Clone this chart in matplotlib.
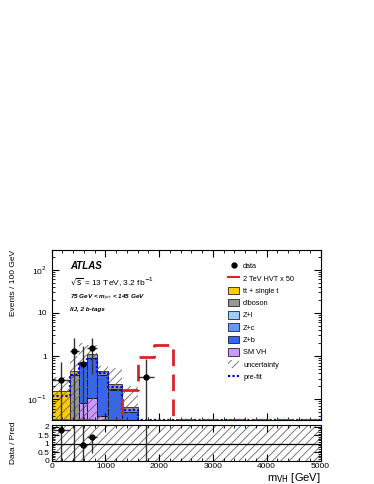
import numpy as np
import matplotlib
matplotlib.use("Agg")
import matplotlib.pyplot as plt
from matplotlib.patches import Patch
from matplotlib.lines import Line2D

plt.rcParams['font.family'] = ['Liberation Sans', 'DejaVu Sans']
plt.rcParams['hatch.linewidth'] = 0.6
plt.rcParams['hatch.color'] = '#666666'

# bin edges in GeV, values are events / 100 GeV
edges = [0, 350, 500, 650, 850, 1050, 1300, 1600, 1900, 2250, 5000]

sm_vh   = [0.0,   0.0,  0.084, 0.105, 0.042, 0.008, 0.0,   0, 0, 0]
z_b     = [0.0,   0.0,  0.62,  0.775, 0.32,  0.16,  0.052, 0, 0, 0]
z_c     = [0.0,   0.0,  0.005, 0.005, 0.003, 0.002, 0.0,   0, 0, 0]
z_l     = [0.0,   0.0,  0.0,   0.0,   0.0,   0.0,   0.0,   0, 0, 0]
diboson = [0.0,   0.37, 0.01,  0.21,  0.08,  0.06,  0.016, 0, 0, 0]
ttbar   = [0.158, 0.09, 0.0,   0.0,   0.0,   0.0,   0.0,   0, 0, 0]

unc_hi = [0.33, 1.0, 2.0, 1.8, 0.6, 0.52, 0.2, 0, 0, 0]

prefit = [0.12, 0.36, 0.70, 0.85, 0.40, 0.19, 0.057, 0, 0, 0]
hvt    = [0.0, 0.0, 0.0, 0.0, 0.0, 0.0, 0.165, 0.93, 1.79, 0.0]

data_y  = [0.286, 1.33, 0.667, 1.5, 0.333]
data_x  = [175, 425, 575, 750, 1750]
data_xe = [175, 75, 75, 100, 150]
data_up = [0.74, 2.65, 1.7, 2.65, 0.84]
data_dn = [0.0, 0.0, 0.0, 0.38, 0.0]

ratio_x  = [175, 425, 575, 750]
ratio_y  = [1.83, 2.9, 0.94, 1.37]
ratio_up = [1.5, 1.0, 1.5, 0.15]
ratio_dn = [1.83, 2.9, 0.94, 0.94]
ratio_xe = [175, 75, 75, 100]
ratio_nomc_x = [1750]

ymin, ymax = 0.033, 280

fig = plt.figure(figsize=(3.74, 4.84), dpi=100)
ax = fig.add_axes([0.138, 0.132, 0.719, 0.351])
axr = fig.add_axes([0.138, 0.048, 0.719, 0.0738])

e = np.array(edges)
def stepvals(v):
    v = np.array(v, dtype=float)
    return np.append(v, v[-1])

stack = [(sm_vh, '#cc99ff', 'SM VH'),
         (z_b, '#3366ff', 'Z+b'),
         (z_c, '#6699ff', 'Z+c'),
         (z_l, '#99ccff', 'Z+l'),
         (diboson, '#999999', 'diboson'),
         (ttbar, '#ffcc00', 'tt + single t')]

bottom = np.zeros(len(e) - 1)
for vals, col, lab in stack:
    vals = np.array(vals, dtype=float)
    top = bottom + vals
    mask = vals > 0
    lo = np.maximum(bottom, ymin * 0.5)
    ax.bar(e[:-1][mask], (top - lo)[mask], width=np.diff(e)[mask], bottom=lo[mask],
           align='edge', color=col, edgecolor='black', linewidth=0.5)
    bottom = top

total = bottom
# uncertainty band
ax.fill_between(e, stepvals(np.full(len(total), ymin * 0.5)) * (stepvals(total) > 0),
                stepvals(unc_hi), step='post', facecolor='none', edgecolor='#666666',
                hatch='////', linewidth=0)

ax.step(e, np.maximum(stepvals(prefit), ymin * 1.02), where='post', color='#0000ff',
        linestyle=(0, (1, 1)), linewidth=1.6)
ax.step(e, np.maximum(stepvals(hvt), ymin * 1.02), where='post', color='#dd2222',
        linestyle=(0, (6, 3)), linewidth=2.0)

ax.errorbar(data_x, data_y, xerr=data_xe,
            yerr=[np.array(data_y) - np.maximum(data_dn, ymin * 0.5), np.array(data_up) - np.array(data_y)],
            fmt='o', color='black', ecolor='#333333', markersize=3.5, elinewidth=1.0, capsize=0)

ax.set_yscale('log')
ax.set_ylim(ymin, ymax)
ax.set_xlim(0, 5000)
ax.set_yticks([0.1, 1, 10, 100])
ax.set_yticklabels(['10$^{-1}$', '1', '10', '10$^{2}$'])
ax.set_xticklabels([])
ax.tick_params(which='both', direction='in', top=True, right=True, labelsize=6)
ax.tick_params(which='major', length=5)
ax.tick_params(which='minor', length=2.5)
ax.xaxis.set_minor_locator(matplotlib.ticker.MultipleLocator(200))
ax.set_ylabel('Events / 100 GeV', fontsize=6, loc='top')

ax.text(0.068, 0.905, 'ATLAS', transform=ax.transAxes, fontsize=7, fontweight='bold', style='italic', va='center')
ax.text(0.068, 0.81, r'$\sqrt{\mathrm{s}}$ = 13 TeV, 3.2 fb$^{-1}$', transform=ax.transAxes, fontsize=6, va='center')
ax.text(0.068, 0.72, r'75 GeV < m$_{jet}$ < 145 GeV', transform=ax.transAxes, fontsize=4.6,
        fontweight='bold', style='italic', va='center')
ax.text(0.068, 0.65, 'llJ, 2 b-tags', transform=ax.transAxes, fontsize=4.6,
        fontweight='bold', style='italic', va='center')

handles = [Line2D([], [], marker='o', color='black', linestyle='none', markersize=3.5),
           Line2D([], [], color='#dd2222', linewidth=1.5)]
labels = ['data', '2 TeV HVT x 50']
for vals, col, lab in reversed(stack):
    handles.append(Patch(facecolor=col, edgecolor='black', linewidth=0.5))
    labels.append(lab)
handles.append(Patch(facecolor='white', edgecolor='#666666', hatch='////', linewidth=0))
labels.append('uncertainty')
handles.append(Line2D([], [], color='#0000ff', linestyle=(0, (1, 1)), linewidth=1.6))
labels.append('pre-fit')
leg = ax.legend(handles, labels, loc='upper left', bbox_to_anchor=(0.63, 0.97), frameon=False,
                fontsize=5.3, handlelength=1.6, handleheight=1.2, labelspacing=0.55, handletextpad=0.5)

# ratio panel
axr.fill_between([0, 5000], [0, 0], [2.2, 2.2], facecolor='none', edgecolor='#666666',
                 hatch='////', linewidth=0)
axr.axhline(1, color='black', linewidth=0.9)
axr.errorbar(ratio_x, ratio_y, xerr=ratio_xe, yerr=[ratio_dn, ratio_up], fmt='o', color='black',
             ecolor='#333333', markersize=3.5, elinewidth=1.0, capsize=0)
axr.vlines(ratio_nomc_x, 0, 2.2, color='#333333', linewidth=1.0)
axr.set_xlim(0, 5000)
axr.set_ylim(0, 2.1)
axr.set_yticks([0, 0.5, 1, 1.5, 2])
axr.set_yticklabels(['0', '0.5', '1', '1.5', '2'])
axr.tick_params(which='both', direction='in', top=True, right=True, labelsize=6, pad=1.5)
axr.tick_params(which='major', length=5)
axr.tick_params(which='minor', length=2.5)
axr.xaxis.set_minor_locator(matplotlib.ticker.MultipleLocator(200))
axr.yaxis.set_minor_locator(matplotlib.ticker.MultipleLocator(0.1))
axr.set_ylabel('Data / Pred', fontsize=6)
axr.set_xlabel('m$_{\\mathrm{VH}}$ [GeV]', fontsize=8, ha='right', va='top')

ax.yaxis.set_label_coords(-0.13, 1.0)
axr.yaxis.set_label_coords(-0.13, 0.5)
axr.xaxis.set_label_coords(1.0, -0.3)

plt.savefig('out.png', dpi=100)
